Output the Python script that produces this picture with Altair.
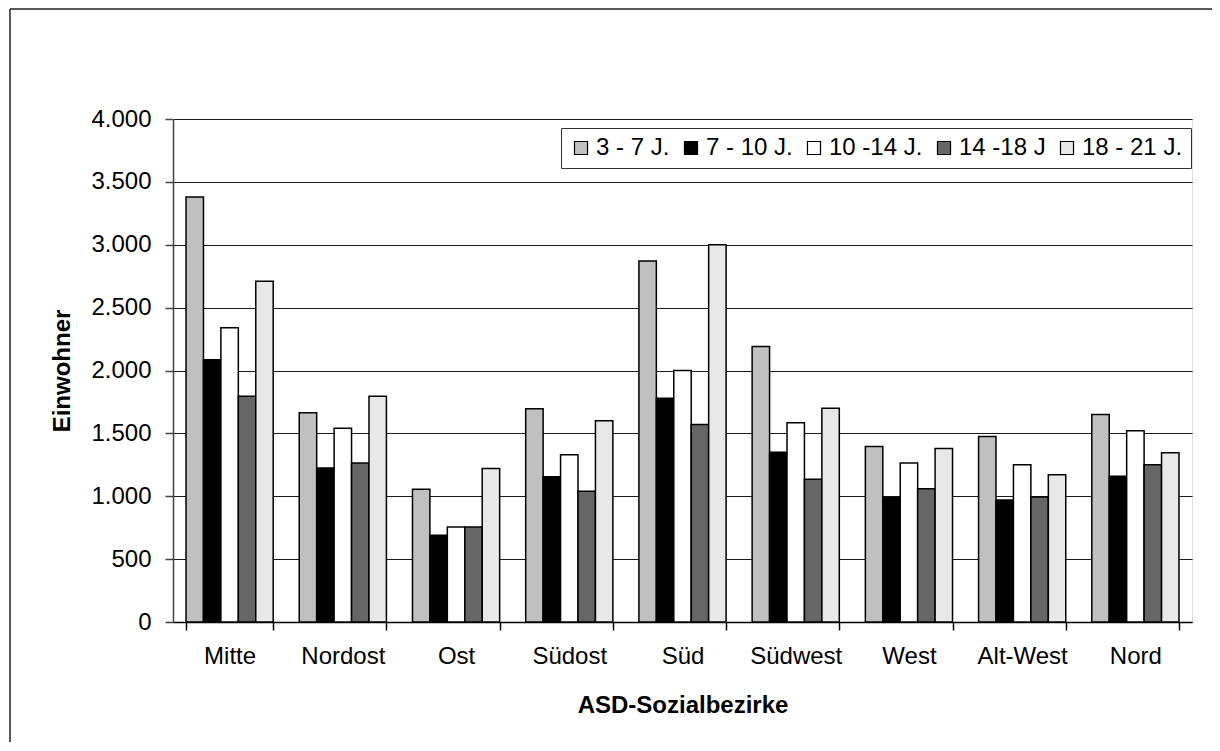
import altair as alt
import pandas as pd

districts = ["Mitte", "Nordost", "Ost", "Südost", "Süd", "Südwest", "West", "Alt-West", "Nord"]
groups = ["3 - 7 J.", "7 - 10 J.", "10 -14 J.", "14 -18 J", "18 - 21 J."]

v_3_7 = [3380, 1665, 1055, 1695, 2870, 2190, 1395, 1475, 1650]
v_7_10 = [2085, 1225, 690, 1155, 1780, 1350, 990, 970, 1160]
v_10_14 = [2340, 1540, 755, 1330, 2000, 1585, 1265, 1250, 1520]
v_14_18 = [1795, 1265, 755, 1040, 1570, 1135, 1060, 995, 1250]
v_18_21 = [2710, 1795, 1220, 1600, 3000, 1700, 1380, 1170, 1345]

series = [v_3_7, v_7_10, v_10_14, v_14_18, v_18_21]
rows = []
for g, vals in zip(groups, series):
    for d, v in zip(districts, vals):
        rows.append({"Bezirk": d, "Gruppe": g, "Einwohner": v})
df = pd.DataFrame(rows)

colors = ["#c0c0c0", "#000000", "#ffffff", "#666666", "#e8e8e8"]
FONT = "Liberation Sans"
FS = 24

bars = alt.Chart(df).mark_bar(stroke="black", strokeWidth=1.5, strokeJoin="miter").encode(
    x=alt.X("Bezirk:N", sort=districts,
            scale=alt.Scale(paddingInner=0.23, paddingOuter=0.115),
            axis=alt.Axis(title="ASD-Sozialbezirke", labelAngle=0, tickBand="extent",
                          labelFontSize=FS, labelFont=FONT, labelColor="black",
                          titleFontSize=FS, titleFont=FONT, titleFontWeight="bold", titleColor="black",
                          labelPadding=14, titlePadding=25, tickSize=8,
                          domainColor="black", tickColor="black", domainWidth=1.5, tickWidth=1.5)),
    xOffset=alt.XOffset("Gruppe:N", sort=groups, scale=alt.Scale(paddingInner=0, paddingOuter=0)),
    y=alt.Y("Einwohner:Q", scale=alt.Scale(domain=[0, 4000], nice=False),
            axis=alt.Axis(title="Einwohner", values=list(range(0, 4001, 500)),
                          labelExpr="replace(format(datum.value, ','), ',', '.')",
                          labelFontSize=FS, labelFont=FONT, labelColor="black",
                          titleFontSize=FS, titleFont=FONT, titleFontWeight="bold", titleColor="black",
                          labelPadding=14, titlePadding=16, tickSize=8,
                          gridColor="#1a1a1a", gridWidth=1.2,
                          domainColor="#444444", tickColor="#444444", domainWidth=1.5, tickWidth=1.5)),
    fill=alt.Fill("Gruppe:N", sort=groups,
                  scale=alt.Scale(domain=groups, range=colors),
                  legend=alt.Legend(title=None, orient="none", legendX=388, legendY=9,
                                    direction="horizontal", columns=5,
                                    labelFontSize=FS, labelFont=FONT, labelColor="black",
                                    symbolType="square", symbolSize=170,
                                    symbolStrokeColor="black", symbolStrokeWidth=1.2,
                                    labelOffset=3, columnPadding=9, labelLimit=300,
                                    strokeColor="#333333", fillColor="white",
                                    padding=8)),
)

frame_df = pd.DataFrame({"k": [0]})
frame_top = alt.Chart(frame_df).mark_rule(stroke="#222222", strokeWidth=1.5, clip=False).encode(
    x=alt.value(-163), x2=alt.value(1060), y=alt.value(-110)
)
frame_left = alt.Chart(frame_df).mark_rule(stroke="#222222", strokeWidth=1.5, clip=False).encode(
    x=alt.value(-163), y=alt.value(-110), y2=alt.value(660)
)

chart = alt.layer(frame_top, frame_left, bars).properties(
    width=1019, height=503,
    autosize=alt.AutoSizeParams(type="none"),
    padding={"left": 165, "top": 111, "right": 20, "bottom": 120},
).configure_view(stroke="#808080", strokeWidth=2).configure(background="white")

chart.save("out.html", embed_options={"renderer": "svg", "actions": False})
